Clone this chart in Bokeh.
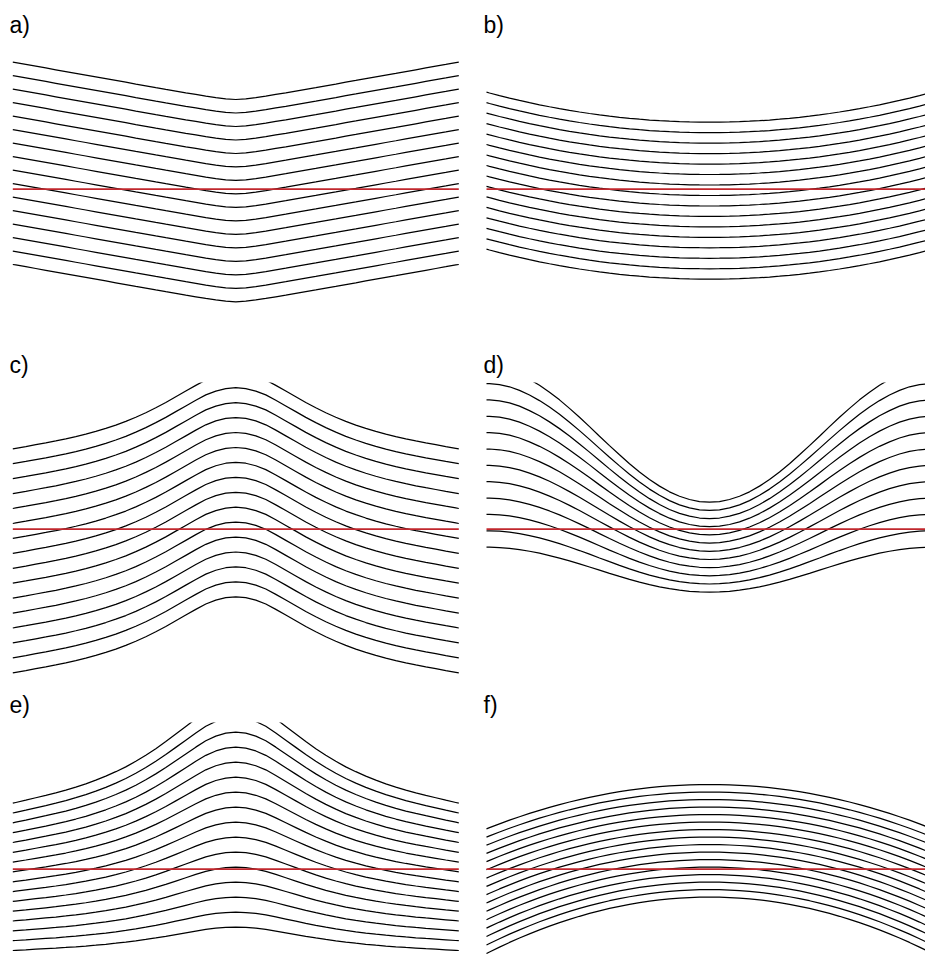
from bokeh.plotting import figure
from bokeh.layouts import column, row
from bokeh.models import Range1d
from bokeh.embed import file_html
from bokeh.resources import INLINE

# ---------------- data ----------------
# distance from the fold axis (horizontal units) at which the layer profiles are sampled
dist = [0, 10, 20, 30, 40, 50, 60, 70, 80, 90, 100, 110, 120, 130, 140, 150,
        160, 170, 180, 190, 200, 210, 220, 223]

# fraction of the limb-to-hinge offset reached at each distance
profile_chevron = [1.000, 0.985, 0.951, 0.910, 0.865, 0.820, 0.773, 0.727, 0.680, 0.632,
                   0.585, 0.537, 0.490, 0.442, 0.394, 0.346, 0.299, 0.251, 0.203, 0.155,
                   0.107, 0.060, 0.012, 0.000]
profile_arc = [1.000, 0.998, 0.992, 0.982, 0.968, 0.950, 0.928, 0.901, 0.871, 0.837,
               0.799, 0.757, 0.710, 0.660, 0.606, 0.548, 0.485, 0.419, 0.348, 0.274,
               0.196, 0.113, 0.027, 0.000]
profile_bump = [1.000, 0.989, 0.956, 0.905, 0.835, 0.760, 0.685, 0.610, 0.540, 0.475,
                0.415, 0.360, 0.312, 0.268, 0.228, 0.192, 0.160, 0.130, 0.103, 0.078,
                0.054, 0.030, 0.007, 0.000]
profile_wave = [1.000, 0.995, 0.980, 0.956, 0.923, 0.881, 0.832, 0.776, 0.715, 0.649,
                0.581, 0.511, 0.440, 0.371, 0.305, 0.242, 0.185, 0.134, 0.090, 0.053,
                0.025, 0.008, 0.000, 0.000]

# layer heights at the limbs and at the hinge (units, red reference level = 0)
a_limb = [127.0, 113.5, 100.0, 86.5, 73.0, 59.6, 46.1, 32.6, 19.1, 5.6, -7.9, -21.4,
          -34.9, -48.4, -61.9, -75.3]
a_hinge = [89.7, 76.2, 62.7, 49.2, 35.7, 22.3, 8.8, -4.7, -18.2, -31.7, -45.2, -58.7,
           -72.2, -85.7, -99.2, -112.6]

b_limb = [97.0, 86.5, 76.1, 65.6, 55.1, 44.7, 34.2, 23.7, 13.2, 2.8, -7.7, -18.2,
          -28.6, -39.1, -49.6, -60.0]
b_hinge = [67.0, 56.5, 46.1, 35.6, 25.1, 14.7, 4.2, -6.3, -16.8, -27.2, -37.7, -48.2,
           -58.6, -69.1, -79.6, -90.0]

c_limb = [80.4, 65.5, 50.5, 35.6, 20.7, 5.7, -9.2, -24.1, -39.1, -54.0, -68.9, -83.9,
          -98.8, -113.7, -128.6, -143.6]
c_hinge = [156.4, 141.5, 126.5, 111.6, 96.7, 81.7, 66.8, 51.9, 36.9, 22.0, 7.1, -7.9,
           -22.8, -37.7, -52.6, -67.6]

d_limb = [162.0, 145.6, 129.3, 112.9, 96.6, 80.2, 63.8, 47.5, 31.1, 14.8, -1.6, -18.0]
d_hinge = [27.0, 18.8, 10.6, 2.5, -5.7, -13.9, -22.1, -30.3, -38.4, -46.6, -54.8, -63.0]

e_limb = [66.0, 56.2, 46.4, 36.5, 26.7, 16.9, 7.1, -2.7, -12.6, -22.4, -32.2, -42.0,
          -51.8, -61.7, -71.5, -81.3]
e_hinge = [167.0, 152.0, 137.0, 122.0, 107.0, 92.0, 77.0, 62.0, 47.0, 32.0, 17.0, 2.0,
           -13.0, -28.0, -43.0, -58.0]

f_limb = [40.3, 32.1, 24.0, 15.8, 7.6, -0.6, -8.9, -17.2, -25.4, -33.8, -42.1, -50.5,
          -58.9, -67.3, -75.8, -84.3]
f_hinge = [84.7, 77.2, 69.7, 62.2, 54.7, 47.2, 39.6, 32.1, 24.6, 17.1, 9.6, 2.1,
           -5.4, -12.9, -20.4, -27.9]

reference_level = [0.0]
reference_extent = [-223, 223]

panel_labels = ["a)", "b)", "c)", "d)", "e)", "f)"]

# ---------------- drawing ----------------
S = 1.0            # screen pixels per data unit
TOP_BORDER = 42    # space for the panel label
FRAME_TOP = 146.7  # data y at top edge of each panel frame


def mirror(values, negate=False):
    left = [(-v if negate else v) for v in reversed(values)]
    return left + list(values[1:])


def panel(label, limb, hinge, profile, width, height, x_start, label_offset):
    xs_one = mirror(dist, negate=True)
    prof = mirror(profile)
    xs = [xs_one for _ in limb]
    ys = [[l + (h - l) * f for f in prof] for l, h in zip(limb, hinge)]

    p = figure(width=width, height=height, output_backend="svg", toolbar_location=None,
               x_axis_location=None, y_axis_location=None,
               x_range=Range1d(x_start, x_start + width / S),
               y_range=Range1d(FRAME_TOP - (height - TOP_BORDER) / S, FRAME_TOP),
               min_border_left=0, min_border_right=0, min_border_bottom=0,
               min_border_top=TOP_BORDER, title=label)
    p.grid.visible = False
    p.outline_line_color = None
    p.background_fill_color = "white"
    p.border_fill_color = "white"
    p.title.text_font = "Liberation Sans"
    p.title.text_font_size = "23px"
    p.title.text_font_style = "normal"
    p.title.text_color = "black"
    p.title.align = "left"
    p.title.offset = label_offset
    p.title.standoff = 9

    p.multi_line(xs=xs, ys=ys, line_color="black", line_width=1.25)
    p.line(x=reference_extent, y=[reference_level[0]] * len(reference_extent),
           line_color="#c1272d", line_width=1.8)
    return p


LW, RW = 473, 452
TH, BH = 340, 274

pa = panel(panel_labels[0], a_limb, a_hinge, profile_chevron, LW, TH, -235.3, 9)
pb = panel(panel_labels[1], b_limb, b_hinge, profile_arc, RW, TH, -236.0, 10)
pc = panel(panel_labels[2], c_limb, c_hinge, profile_bump, LW, TH, -235.3, 9)
pd = panel(panel_labels[3], d_limb, d_hinge, profile_wave, RW, TH, -236.0, 10)
pe = panel(panel_labels[4], e_limb, e_hinge, profile_bump, LW, BH, -235.3, 9)
pf = panel(panel_labels[5], f_limb, f_hinge, profile_arc, RW, BH, -236.0, 10)

layout = column(row(pa, pb), row(pc, pd), row(pe, pf))

open("out.html", "w").write(file_html(layout, INLINE))
